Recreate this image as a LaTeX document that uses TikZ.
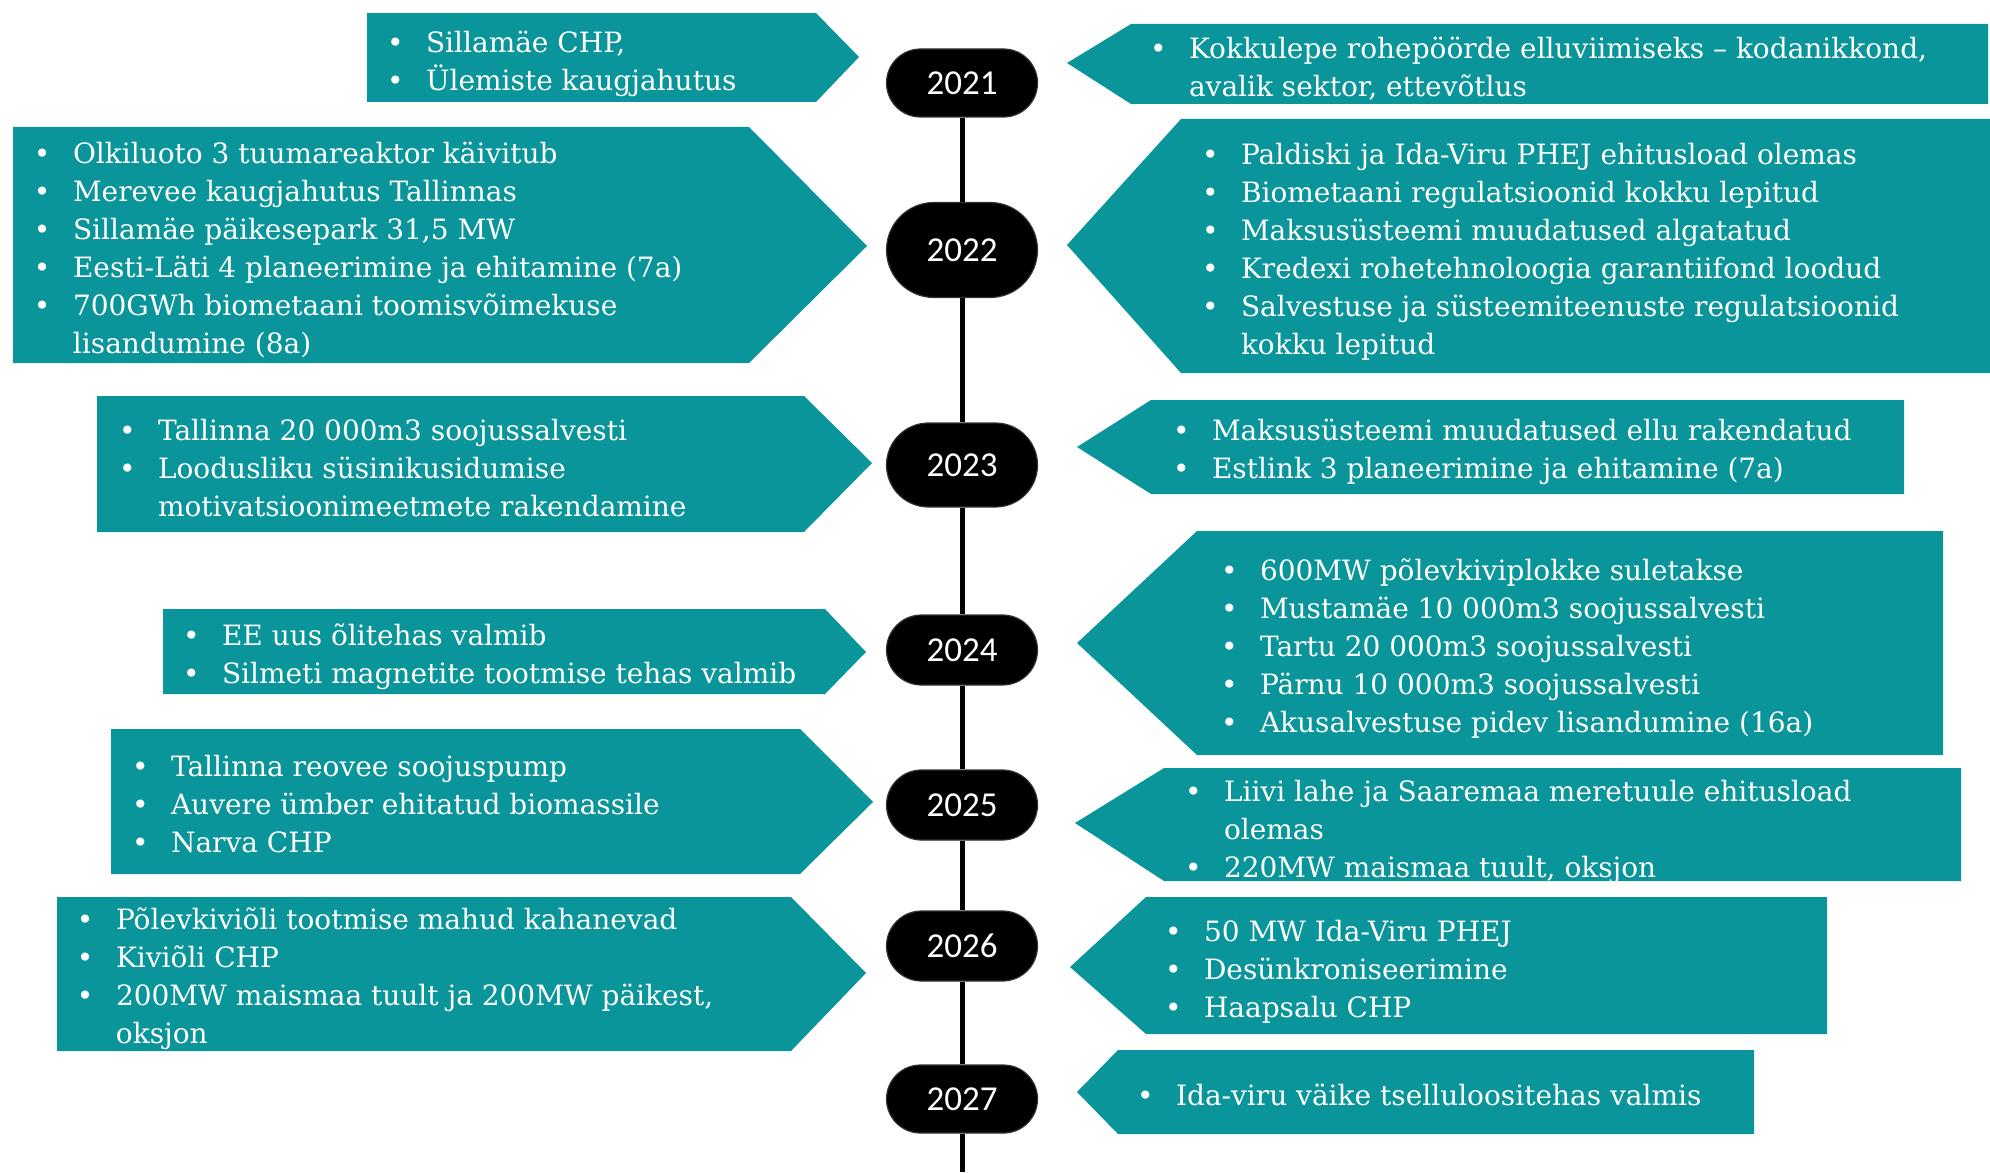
\documentclass[tikz,border=0pt]{standalone}
\usepackage{fontspec}
\setmainfont{DejaVu Serif}
\newfontfamily\yearfont{Carlito}
\usetikzlibrary{shapes.misc}
\definecolor{teal1}{RGB}{9,149,154}
\newcommand\bu{\makebox[17pt][l]{\hspace*{-2.5pt}•}}
\newcommand\nb{\hspace*{17pt}}
\begin{document}
\begin{tikzpicture}[x=0.5pt,y=-0.5pt,
  band/.style={fill=teal1},
  txt/.style={anchor=base west,inner sep=0pt,outer sep=0pt,text=white,font=\fontsize{14}{19}\selectfont},
  year/.style={rounded rectangle,fill=black,draw=black!80,line width=0.6pt,minimum width=75.5pt,text=white,font=\yearfont\fontsize{17.5}{19}\selectfont,inner sep=0pt},
  tl/.style={line width=2.5pt,black}]
\useasboundingbox (0,0) rectangle (1990,1172);
% bands pointing right (left side)
\fill[band] (367,13) -- (816,13) -- (859,57) -- (816,102) -- (367,102) -- cycle;
\fill[band] (13,127) -- (749,127) -- (867,246) -- (749,363) -- (13,363) -- cycle;
\fill[band] (97,396) -- (804,396) -- (872,463) -- (804,532) -- (97,532) -- cycle;
\fill[band] (163,609) -- (825,609) -- (866,652) -- (825,694) -- (163,694) -- cycle;
\fill[band] (111,729) -- (800,729) -- (873,802) -- (800,874) -- (111,874) -- cycle;
\fill[band] (57,897) -- (791,897) -- (866,973) -- (791,1051) -- (57,1051) -- cycle;
% bands pointing left (right side)
\fill[band] (1067,63) -- (1131,24) -- (1988,24) -- (1988,104) -- (1131,104) -- cycle;
\fill[band] (1067,245) -- (1181,119) -- (1990,119) -- (1990,373) -- (1181,373) -- cycle;
\fill[band] (1077,447) -- (1151,400) -- (1904,400) -- (1904,494) -- (1151,494) -- cycle;
\fill[band] (1077,643) -- (1197,531) -- (1943,531) -- (1943,755) -- (1197,755) -- cycle;
\fill[band] (1075,823) -- (1164,768) -- (1961,768) -- (1961,881) -- (1164,881) -- cycle;
\fill[band] (1070,967) -- (1146,897) -- (1827,897) -- (1827,1034) -- (1146,1034) -- cycle;
\fill[band] (1077,1092) -- (1118,1050) -- (1754,1050) -- (1754,1134) -- (1118,1134) -- cycle;
% year pills
\node[year,minimum height=34pt] (y21) at (962,83) {2021};
\node[year,minimum height=47.5pt] (y22) at (962,250) {2022};
\node[year,minimum height=42pt] (y23) at (962,465) {2023};
\node[year,minimum height=35pt] (y24) at (962,650) {2024};
\node[year,minimum height=35pt] (y25) at (962,805) {2025};
\node[year,minimum height=35pt] (y26) at (962,946) {2026};
\node[year,minimum height=34pt] (y27) at (962,1099) {2027};
\coordinate (bot) at (962,1172);
\draw[tl] (y21.south) -- (y22.north);
\draw[tl] (y22.south) -- (y23.north);
\draw[tl] (y23.south) -- (y24.north);
\draw[tl] (y24.south) -- (y25.north);
\draw[tl] (y25.south) -- (y26.north);
\draw[tl] (y26.south) -- (y27.north);
\draw[tl] (y27.south) -- (bot);
% texts
\node[txt] (t21l) at (392,53) {\begin{tabular}[t]{@{}l@{}}\bu Sillamäe CHP,\\ \bu Ülemiste kaugjahutus\end{tabular}};
\node[txt] (t21r) at (1155,59) {\begin{tabular}[t]{@{}l@{}}\bu Kokkulepe rohepöörde elluviimiseks – kodanikkond,\\ \nb avalik sektor, ettevõtlus\end{tabular}};
\node[txt] (t22l) at (39,163) {\begin{tabular}[t]{@{}l@{}}\bu Olkiluoto 3 tuumareaktor käivitub\\ \bu Merevee kaugjahutus Tallinnas\\ \bu Sillamäe päikesepark 31,5 MW\\ \bu Eesti-Läti 4 planeerimine ja ehitamine (7a)\\ \bu 700GWh biometaani toomisvõimekuse\\ \nb lisandumine (8a)\end{tabular}};
\node[txt] (t22r) at (1207,164) {\begin{tabular}[t]{@{}l@{}}\bu Paldiski ja Ida-Viru PHEJ ehitusload olemas\\ \bu Biometaani regulatsioonid kokku lepitud\\ \bu Maksusüsteemi muudatused algatatud\\ \bu Kredexi rohetehnoloogia garantiifond loodud\\ \bu Salvestuse ja süsteemiteenuste regulatsioonid\\ \nb kokku lepitud\end{tabular}};
\node[txt] (t23l) at (124,440) {\begin{tabular}[t]{@{}l@{}}\bu Tallinna 20 000m3 soojussalvesti\\ \bu Loodusliku süsinikusidumise\\ \nb motivatsioonimeetmete rakendamine\end{tabular}};
\node[txt] (t23r) at (1178,440) {\begin{tabular}[t]{@{}l@{}}\bu Maksusüsteemi muudatused ellu rakendatud\\ \bu Estlink 3 planeerimine ja ehitamine (7a)\end{tabular}};
\node[txt] (t24l) at (188,645) {\begin{tabular}[t]{@{}l@{}}\bu EE uus õlitehas valmib\\ \bu Silmeti magnetite tootmise tehas valmib\end{tabular}};
\node[txt] (t24r) at (1226,580) {\begin{tabular}[t]{@{}l@{}}\bu 600MW põlevkiviplokke suletakse\\ \bu Mustamäe 10 000m3 soojussalvesti\\ \bu Tartu 20 000m3 soojussalvesti\\ \bu Pärnu 10 000m3 soojussalvesti\\ \bu Akusalvestuse pidev lisandumine (16a)\end{tabular}};
\node[txt] (t25l) at (137,776) {\begin{tabular}[t]{@{}l@{}}\bu Tallinna reovee soojuspump\\ \bu Auvere ümber ehitatud biomassile\\ \bu Narva CHP\end{tabular}};
\node[txt] (t25r) at (1190,801) {\begin{tabular}[t]{@{}l@{}}\bu Liivi lahe ja Saaremaa meretuule ehitusload\\ \nb olemas\\ \bu 220MW maismaa tuult, oksjon\end{tabular}};
\node[txt] (t26l) at (82,929) {\begin{tabular}[t]{@{}l@{}}\bu Põlevkiviõli tootmise mahud kahanevad\\ \bu Kiviõli CHP\\ \bu 200MW maismaa tuult ja 200MW päikest,\\ \nb oksjon\end{tabular}};
\node[txt] (t26r) at (1170,941) {\begin{tabular}[t]{@{}l@{}}\bu 50 MW Ida-Viru PHEJ\\ \bu Desünkroniseerimine\\ \bu Haapsalu CHP\end{tabular}};
\node[txt] (t27r) at (1142,1105) {\begin{tabular}[t]{@{}l@{}}\bu Ida-viru väike tselluloositehas valmis\end{tabular}};
\end{tikzpicture}
\end{document}
